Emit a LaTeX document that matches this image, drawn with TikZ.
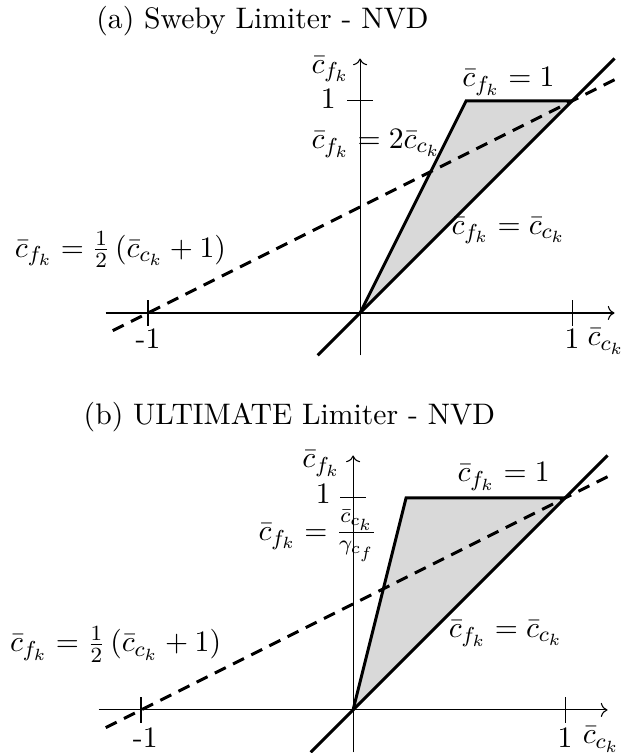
\documentclass[tikz,border=0pt,11pt]{standalone}
\usepackage{amsmath}
\usepackage{tikz}
\usetikzlibrary{arrows.meta, calc}

\begin{document}
\begin{tikzpicture}[
  x=2.75cm, y=2.75cm,
  axis/.style={thin, ->},
  limiter/.style={line width=1.1pt},
  region/.style={fill=gray!30, draw=none},
  guide/.style={line width=1.1pt, dash pattern=on 4.5pt off 3pt},
  tickmark/.style={thin},
]
\useasboundingbox (-1.698,-2.075) rectangle (1.245,1.476);

% (a) Sweby limiter
\begin{scope}
\coordinate (oa) at (0,0);
\coordinate (pa) at (0.5,1);
\coordinate (qa) at (1,1);
\fill[region] (oa) -- (pa) -- (qa) -- cycle;
\draw[axis] (-1.2,0) coordinate (xla) -- (1.2,0) coordinate (xra);
\draw[axis] (0,-0.2) coordinate (yba) -- (0,1.2) coordinate (yta);
\draw[tickmark] (1,-0.06) -- (1,0.06);
\draw[tickmark] (-1,-0.06) -- (-1,0.06);
\draw[tickmark] (-0.06,1) -- (0.06,1);
\draw[guide] (1.2,1.1) coordinate (gra) -- (-1.2,-0.1) coordinate (gla);
\draw[limiter] (-0.2,-0.2) coordinate (dla) -- (1.2,1.2) coordinate (dra);
\draw[limiter] (oa) -- (pa) -- (qa);
\node (titlea) at (-0.46,1.375) {(a) Sweby Limiter - NVD};
\node (ylaba) at (-0.14,1.15) {$\bar{c}_{f_k}$};
\node (yonea) at (-0.15,1.01) {1};
\node (xonea) at (1.0,-0.12) {1};
\node (xmonea) at (-1.0,-0.12) {-1};
\node (xlaba) at (1.16,-0.135) {$\bar{c}_{c_k}$};
\node (capa) at (0.70,1.09) {$\bar{c}_{f_k}=1$};
\node (slopea) at (0.075,0.80) {$\bar{c}_{f_k}=2\bar{c}_{c_k}$};
\node (diaga) at (0.70,0.39) {$\bar{c}_{f_k}=\bar{c}_{c_k}$};
\node (halfa) at (-1.13,0.30) {$\bar{c}_{f_k}=\frac{1}{2}\left(\bar{c}_{c_k}+1\right)$};
\end{scope}

% (b) ULTIMATE limiter
\begin{scope}[shift={(-0.033,-1.872)}]
\coordinate (ob) at (0,0);
\coordinate (pb) at (0.25,1);
\coordinate (qb) at (1,1);
\fill[region] (ob) -- (pb) -- (qb) -- cycle;
\draw[axis] (-1.2,0) coordinate (xlb) -- (1.2,0) coordinate (xrb);
\draw[axis] (0,-0.2) coordinate (ybb) -- (0,1.2) coordinate (ytb);
\draw[tickmark] (1,-0.06) -- (1,0.06);
\draw[tickmark] (-1,-0.06) -- (-1,0.06);
\draw[tickmark] (-0.06,1) -- (0.06,1);
\draw[guide] (1.2,1.1) coordinate (grb) -- (-1.2,-0.1) coordinate (glb);
\draw[limiter] (-0.2,-0.2) coordinate (dlb) -- (1.2,1.2) coordinate (drb);
\draw[limiter] (ob) -- (pb) -- (qb);
\node (titleb) at (-0.30,1.38) {(b) ULTIMATE Limiter - NVD};
\node (ylabb) at (-0.15,1.16) {$\bar{c}_{f_k}$};
\node (yoneb) at (-0.14,1.02) {1};
\node (xoneb) at (1.0,-0.13) {1};
\node (xmoneb) at (-0.98,-0.13) {-1};
\node (xlabb) at (1.17,-0.14) {$\bar{c}_{c_k}$};
\node (capb) at (0.71,1.10) {$\bar{c}_{f_k}=1$};
\node (slopeb) at (-0.165,0.82) {$\bar{c}_{f_k}=\frac{\bar{c}_{c_k}}{\gamma_{c_f}}$};
\node (diagb) at (0.72,0.36) {$\bar{c}_{f_k}=\bar{c}_{c_k}$};
\node (halfb) at (-1.12,0.31) {$\bar{c}_{f_k}=\frac{1}{2}\left(\bar{c}_{c_k}+1\right)$};
\end{scope}
\end{tikzpicture}
\end{document}
